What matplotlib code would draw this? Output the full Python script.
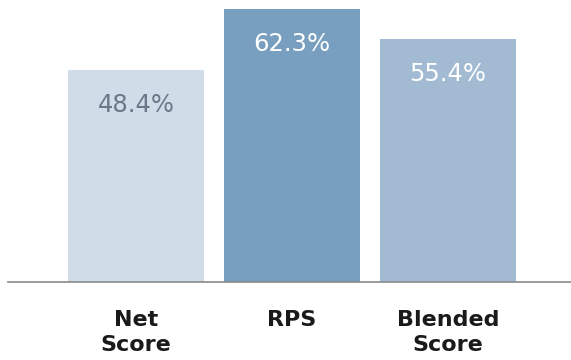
import matplotlib
matplotlib.use("Agg")
import matplotlib.pyplot as plt

categories = ["Net\nScore", "RPS", "Blended\nScore"]
values = [48.4, 62.3, 55.4]
value_labels = ["48.4%", "62.3%", "55.4%"]

bar_colors = ["#D0DCE7", "#789FC0", "#A2BBD3"]
label_colors = ["#6B7889", "white", "white"]

fig = plt.figure(figsize=(5.71, 3.6), dpi=100)
ax = fig.add_axes([8 / 571, 1 - 282 / 360, 1 - 8 / 571, 282 / 360])

x = range(len(values))
bars = ax.bar(x, values, width=0.872, color=bar_colors)

for b, lab, c in zip(bars, value_labels, label_colors):
    ax.annotate(lab, (b.get_x() + b.get_width() / 2, b.get_height()),
                xytext=(0, -25), textcoords="offset points",
                ha="center", va="center", fontsize=17.5, color=c)

ax.set_xlim(-0.821, 2.788)
ax.set_ylim(0, 64.4)
ax.set_xticks(list(x))
ax.set_xticklabels(categories, fontsize=16, fontweight="bold", color="#1a1a1a",
                   linespacing=1.35, va="top")
ax.tick_params(axis="x", length=0, pad=20)
ax.set_yticks([])
for s in ["top", "right", "left"]:
    ax.spines[s].set_visible(False)
ax.spines["bottom"].set_color("#8a8a8a")
ax.spines["bottom"].set_linewidth(1.2)

fig.savefig("out.png", dpi=100)
